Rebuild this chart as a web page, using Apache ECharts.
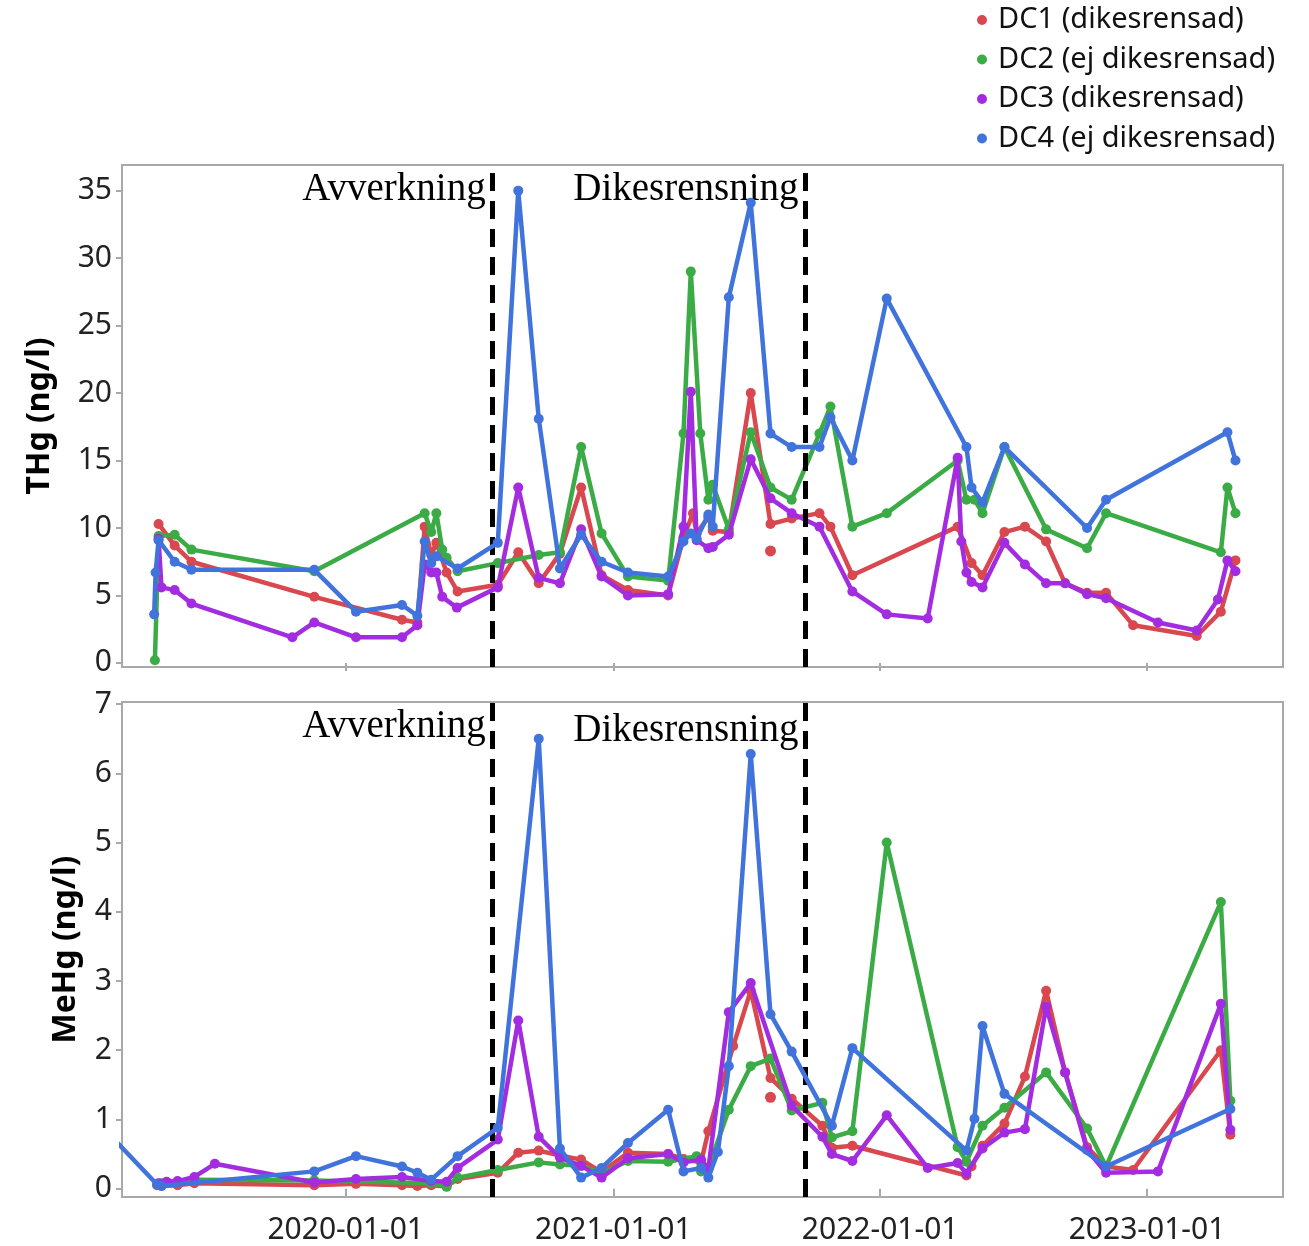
<!DOCTYPE html>
<html>
<head>
<meta charset="utf-8">
<script src="https://cdn.jsdelivr.net/npm/echarts@6/dist/echarts.min.js"></script>
<style>
html,body{margin:0;padding:0;background:#fff;}
#chart{width:1309px;height:1246px;}
</style>
</head>
<body>
<div id="chart"></div>
<script>
// ---------------- DATA ----------------
const seriesNames = ['DC1 (dikesrensad)', 'DC2 (ej dikesrensad)', 'DC3 (dikesrensad)', 'DC4 (ej dikesrensad)'];
const seriesColors = ['#d9474f', '#3bab45', '#a32ce0', '#4173dd'];

const yearTicks = ['2020-01-01', '2021-01-01', '2022-01-01', '2023-01-01'];
const xRange = ['2019-03-01', '2023-07-06'];
const phaseDates = ['2020-07-20', '2021-09-21'];
const phaseLabels = ['Avverkning', 'Dikesrensning'];

const thgTicks = [0, 5, 10, 15, 20, 25, 30, 35];
const mehgTicks = [0, 1, 2, 3, 4, 5, 6, 7];

// THg (ng/l)
const thgDC1 = [['2019-04-20',10.3],['2019-05-12',8.7],['2019-06-04',7.5],['2019-11-19',4.9],['2020-03-18',3.2],['2020-04-08',3.0],['2020-04-18',10.1],['2020-04-27',8.0],['2020-05-04',8.9],['2020-05-18',6.7],['2020-06-02',5.3],['2020-07-27',5.8],['2020-08-24',8.2],['2020-09-21',5.9],['2020-10-20',8.1],['2020-11-18',13.0],['2020-12-16',6.5],['2021-01-21',5.4],['2021-03-17',5.0],['2021-04-07',9.3],['2021-04-20',11.1],['2021-04-25',9.6],['2021-05-11',10.8],['2021-05-17',9.8],['2021-06-08',9.7],['2021-07-08',20.0],['2021-08-04',10.3],['2021-09-02',10.7],['2021-10-10',11.1],['2021-10-25',10.1],['2021-11-24',6.5],['2022-04-17',10.1],['2022-05-06',7.4],['2022-05-21',6.5],['2022-06-20',9.7],['2022-07-18',10.1],['2022-08-16',9.0],['2022-09-11',5.9],['2022-10-11',5.2],['2022-11-06',5.2],['2022-12-13',2.8],['2023-03-10',2.0],['2023-04-12',3.8],['2023-05-02',7.6]];
const thgDC1Single = [['2021-08-04',8.3]];
const thgDC2 = [['2019-04-15',0.2],['2019-04-20',9.4],['2019-05-12',9.5],['2019-06-04',8.4],['2019-11-19',6.8],['2020-04-18',11.1],['2020-04-27',9.7],['2020-05-04',11.1],['2020-05-12',8.4],['2020-05-18',7.8],['2020-06-02',6.8],['2020-07-27',7.4],['2020-09-21',8.0],['2020-10-20',8.2],['2020-11-18',16.0],['2020-12-16',9.6],['2021-01-21',6.4],['2021-03-17',6.1],['2021-04-07',17.0],['2021-04-17',29.0],['2021-04-30',17.0],['2021-05-11',12.1],['2021-05-17',13.2],['2021-06-08',9.9],['2021-07-08',17.1],['2021-08-04',13.0],['2021-09-02',12.1],['2021-10-10',17.0],['2021-10-25',19.0],['2021-11-24',10.1],['2022-01-10',11.1],['2022-04-17',15.0],['2022-04-29',12.1],['2022-05-10',12.1],['2022-05-21',11.1],['2022-06-20',16.0],['2022-08-16',9.9],['2022-10-11',8.5],['2022-11-06',11.1],['2023-04-12',8.2],['2023-04-21',13.0],['2023-05-02',11.1]];
const thgDC3 = [['2019-04-20',9.2],['2019-04-24',5.6],['2019-05-12',5.4],['2019-06-04',4.4],['2019-10-20',1.9],['2019-11-19',3.0],['2020-01-15',1.9],['2020-03-18',1.9],['2020-04-08',2.8],['2020-04-18',7.3],['2020-04-27',6.7],['2020-05-04',6.7],['2020-05-12',4.9],['2020-06-01',4.1],['2020-07-27',5.6],['2020-08-24',13.0],['2020-09-21',6.3],['2020-10-20',5.9],['2020-11-18',9.9],['2020-12-16',6.4],['2021-01-21',5.0],['2021-03-17',5.1],['2021-04-07',10.1],['2021-04-17',20.1],['2021-04-25',9.1],['2021-05-11',8.5],['2021-05-17',8.6],['2021-06-08',9.5],['2021-07-08',15.1],['2021-08-04',12.2],['2021-09-02',11.1],['2021-10-10',10.1],['2021-11-24',5.3],['2022-01-10',3.6],['2022-03-07',3.3],['2022-04-17',15.2],['2022-04-22',9.0],['2022-04-29',6.7],['2022-05-06',6.0],['2022-05-21',5.6],['2022-06-20',8.9],['2022-07-18',7.3],['2022-08-16',5.9],['2022-09-11',5.9],['2022-10-11',5.1],['2022-11-06',4.8],['2023-01-16',3.0],['2023-03-10',2.4],['2023-04-08',4.7],['2023-04-21',7.6],['2023-05-02',6.8]];
const thgDC4 = [['2019-04-14',3.6],['2019-04-16',6.7],['2019-04-20',9.1],['2019-05-12',7.5],['2019-06-04',6.9],['2019-11-19',6.9],['2020-01-15',3.8],['2020-03-18',4.3],['2020-04-08',3.5],['2020-04-18',9.0],['2020-04-27',7.4],['2020-05-04',7.9],['2020-06-02',7.0],['2020-07-27',8.9],['2020-08-24',35.0],['2020-09-21',18.1],['2020-10-20',7.0],['2020-11-18',9.5],['2020-12-16',7.5],['2021-01-21',6.7],['2021-03-17',6.4],['2021-04-07',9.0],['2021-04-17',9.6],['2021-04-25',9.2],['2021-05-11',11.0],['2021-05-17',10.1],['2021-06-08',27.1],['2021-07-08',34.1],['2021-08-04',17.0],['2021-09-02',16.0],['2021-10-10',16.0],['2021-10-25',18.2],['2021-11-24',15.0],['2022-01-10',27.0],['2022-04-29',16.0],['2022-05-06',13.0],['2022-05-21',11.9],['2022-06-20',16.0],['2022-10-11',10.0],['2022-11-06',12.1],['2023-04-21',17.1],['2023-05-02',15.0]];

// MeHg (ng/l)
const mehgDC1 = [['2019-04-18',0.05],['2019-04-24',0.04],['2019-05-16',0.05],['2019-06-08',0.08],['2019-11-19',0.05],['2020-01-15',0.07],['2020-03-18',0.05],['2020-04-08',0.04],['2020-04-27',0.05],['2020-05-18',0.03],['2020-06-02',0.14],['2020-07-27',0.23],['2020-08-24',0.52],['2020-09-21',0.55],['2020-10-20',0.48],['2020-11-18',0.42],['2020-12-16',0.24],['2021-01-21',0.52],['2021-03-17',0.50],['2021-04-07',0.43],['2021-05-01',0.38],['2021-05-11',0.83],['2021-06-14',2.06],['2021-07-08',2.86],['2021-08-04',1.60],['2021-09-02',1.30],['2021-10-14',0.91],['2021-10-27',0.59],['2021-11-24',0.62],['2022-04-29',0.19],['2022-05-06',0.32],['2022-05-21',0.62],['2022-06-20',0.94],['2022-07-18',1.62],['2022-08-16',2.86],['2022-09-11',1.68],['2022-10-11',0.60],['2022-11-06',0.32],['2022-12-13',0.27],['2023-04-12',2.00],['2023-04-25',0.78]];
const mehgDC1Single = [['2021-08-04',1.32]];
const mehgDC2 = [['2019-04-24',0.08],['2019-06-08',0.13],['2019-11-19',0.12],['2020-04-27',0.08],['2020-05-18',0.03],['2020-06-02',0.16],['2020-07-27',0.27],['2020-09-21',0.38],['2020-10-20',0.35],['2020-11-18',0.33],['2020-12-16',0.22],['2021-01-21',0.40],['2021-03-17',0.39],['2021-04-25',0.47],['2021-05-01',0.25],['2021-05-11',0.30],['2021-06-08',1.14],['2021-07-08',1.77],['2021-08-04',1.88],['2021-09-02',1.13],['2021-10-14',1.24],['2021-10-27',0.74],['2021-11-24',0.83],['2022-01-10',5.00],['2022-04-17',0.60],['2022-04-29',0.39],['2022-05-21',0.91],['2022-06-20',1.17],['2022-08-16',1.68],['2022-10-11',0.87],['2022-11-06',0.32],['2023-04-12',4.14],['2023-04-25',1.27]];
const mehgDC3 = [['2019-04-20',0.08],['2019-05-01',0.10],['2019-05-16',0.11],['2019-06-08',0.17],['2019-07-06',0.36],['2019-11-19',0.09],['2020-01-15',0.14],['2020-03-18',0.17],['2020-04-27',0.11],['2020-05-18',0.10],['2020-06-02',0.30],['2020-07-27',0.71],['2020-08-24',2.43],['2020-09-21',0.75],['2020-10-20',0.45],['2020-11-18',0.33],['2020-12-16',0.16],['2021-01-21',0.44],['2021-03-17',0.50],['2021-04-07',0.38],['2021-05-01',0.42],['2021-05-11',0.29],['2021-06-08',2.55],['2021-07-08',2.97],['2021-09-02',1.20],['2021-10-14',0.75],['2021-10-27',0.50],['2021-11-24',0.40],['2022-01-10',1.06],['2022-03-07',0.30],['2022-04-17',0.37],['2022-04-29',0.22],['2022-05-21',0.58],['2022-06-20',0.81],['2022-07-18',0.86],['2022-08-16',2.63],['2022-09-11',1.68],['2022-10-11',0.56],['2022-11-06',0.23],['2023-01-16',0.25],['2023-04-12',2.67],['2023-04-25',0.85]];
const mehgDC4 = [['2019-02-15',0.75],['2019-04-18',0.06],['2019-04-24',0.04],['2019-11-19',0.25],['2020-01-15',0.47],['2020-03-18',0.32],['2020-04-08',0.23],['2020-04-27',0.13],['2020-06-02',0.47],['2020-07-27',0.88],['2020-09-21',6.50],['2020-10-20',0.58],['2020-11-18',0.16],['2020-12-16',0.30],['2021-01-21',0.66],['2021-03-17',1.14],['2021-04-07',0.25],['2021-05-01',0.30],['2021-05-11',0.16],['2021-05-24',0.53],['2021-06-08',1.77],['2021-07-08',6.28],['2021-08-04',2.52],['2021-09-02',1.98],['2021-10-27',0.91],['2021-11-24',2.03],['2022-04-29',0.55],['2022-05-10',1.01],['2022-05-21',2.35],['2022-06-20',1.37],['2022-11-06',0.32],['2023-04-25',1.15]];

// ---------------- CHART ----------------
const toTime = s => { const p = s.split('-').map(Number); return Date.UTC(p[0], p[1] - 1, p[2]); };
const pad = n => (n < 10 ? '0' : '') + n;
const fmtDate = v => { const d = new Date(v); return d.getUTCFullYear() + '-' + pad(d.getUTCMonth() + 1) + '-' + pad(d.getUTCDate()); };
const toPts = arr => arr.map(p => [toTime(p[0]), p[1]]);

const sans = "'Noto Sans', 'Open Sans', sans-serif";
const serif = "'Liberation Serif', 'DejaVu Serif', serif";
const frameColor = '#a9a9a9';

const chart = echarts.init(document.getElementById('chart'), null, { renderer: 'canvas' });

function lineSeries(idx, data, panel, extra) {
  return Object.assign({
    type: 'line',
    name: seriesNames[idx],
    xAxisIndex: panel, yAxisIndex: panel,
    data: toPts(data),
    symbol: 'circle', symbolSize: 10, showSymbol: true,
    lineStyle: { width: 4.5, color: seriesColors[idx] },
    itemStyle: { color: seriesColors[idx] },
    emphasis: { disabled: true },
    clip: true,
    z: 2 + idx
  }, extra || {});
}

function singleSeries(data, panel) {
  return {
    type: 'scatter', name: seriesNames[0], xAxisIndex: panel, yAxisIndex: panel,
    data: toPts(data), symbol: 'circle', symbolSize: 11,
    itemStyle: { color: seriesColors[0], opacity: 1 }, emphasis: { disabled: true }, z: 2
  };
}

function phaseMarks(annotY) {
  return {
    markLine: {
      silent: true, symbol: 'none', animation: false,
      label: { show: false },
      lineStyle: { color: '#000', width: 5, type: [18, 10] },
      data: phaseDates.map(d => ({ xAxis: toTime(d) }))
    },
    markPoint: {
      silent: true, symbol: 'circle', symbolSize: 0, animation: false,
      data: phaseDates.map((d, i) => ({
        coord: [toTime(d), annotY[i]],
        label: {
          show: true, formatter: phaseLabels[i], position: 'left', distance: 7,
          fontFamily: serif, fontSize: 39, color: '#000'
        }
      }))
    }
  };
}

function yAxis(panel, min, max, ticks, name, gap) {
  return {
    type: 'value', gridIndex: panel, min: min, max: max,
    name: name, nameLocation: 'middle', nameGap: gap,
    nameTextStyle: { fontFamily: sans, fontSize: 32, fontWeight: 'bold', color: '#000' },
    axisLine: { show: false },
    axisTick: { show: true, customValues: ticks, length: 6, lineStyle: { color: frameColor, width: 2 } },
    axisLabel: { show: true, customValues: ticks, fontFamily: sans, fontSize: 30, color: '#222', margin: 10 },
    splitLine: { show: false }
  };
}

function xAxis(panel, showLabels) {
  const ticks = yearTicks.map(toTime);
  return {
    type: 'value', gridIndex: panel,
    min: toTime(xRange[0]), max: toTime(xRange[1]),
    axisLine: { show: false },
    axisTick: { show: true, customValues: ticks, length: 8, lineStyle: { color: frameColor, width: 2 } },
    axisLabel: {
      show: showLabels, customValues: ticks, formatter: v => fmtDate(v),
      fontFamily: sans, fontSize: 30, color: '#222', margin: 18
    },
    splitLine: { show: false }
  };
}

const option = {
  animation: false,
  backgroundColor: '#ffffff',
  legend: {
    orient: 'vertical', left: 977, top: 5, padding: 0,
    itemWidth: 10, itemHeight: 10, itemGap: 9.5, icon: 'circle',
    textStyle: { fontFamily: sans, fontSize: 29, color: '#111', lineHeight: 30, padding: [0, 0, 0, 6] },
    data: seriesNames
  },
  grid: [
    { left: 122, right: 26, top: 165, height: 502, show: true, borderColor: frameColor, borderWidth: 2, backgroundColor: '#fff' },
    { left: 122, right: 26, top: 702, height: 495, show: true, borderColor: frameColor, borderWidth: 2, backgroundColor: '#fff' }
  ],
  xAxis: [xAxis(0, false), xAxis(1, true)],
  yAxis: [
    yAxis(0, -0.3, 36.9, thgTicks, 'THg (ng/l)', 66),
    yAxis(1, -0.12, 7.03, mehgTicks, 'MeHg (ng/l)', 40)
  ],
  series: [
    lineSeries(3, thgDC4, 0, phaseMarks([35.06, 35.06])),
    lineSeries(1, thgDC2, 0),
    lineSeries(0, thgDC1, 0),
    singleSeries(thgDC1Single, 0),
    lineSeries(2, thgDC3, 0),

    lineSeries(3, mehgDC4, 1, phaseMarks([6.67, 6.61])),
    lineSeries(1, mehgDC2, 1),
    lineSeries(0, mehgDC1, 1),
    singleSeries(mehgDC1Single, 1),
    lineSeries(2, mehgDC3, 1)
  ]
};
chart.setOption(option);
</script>
</body>
</html>
